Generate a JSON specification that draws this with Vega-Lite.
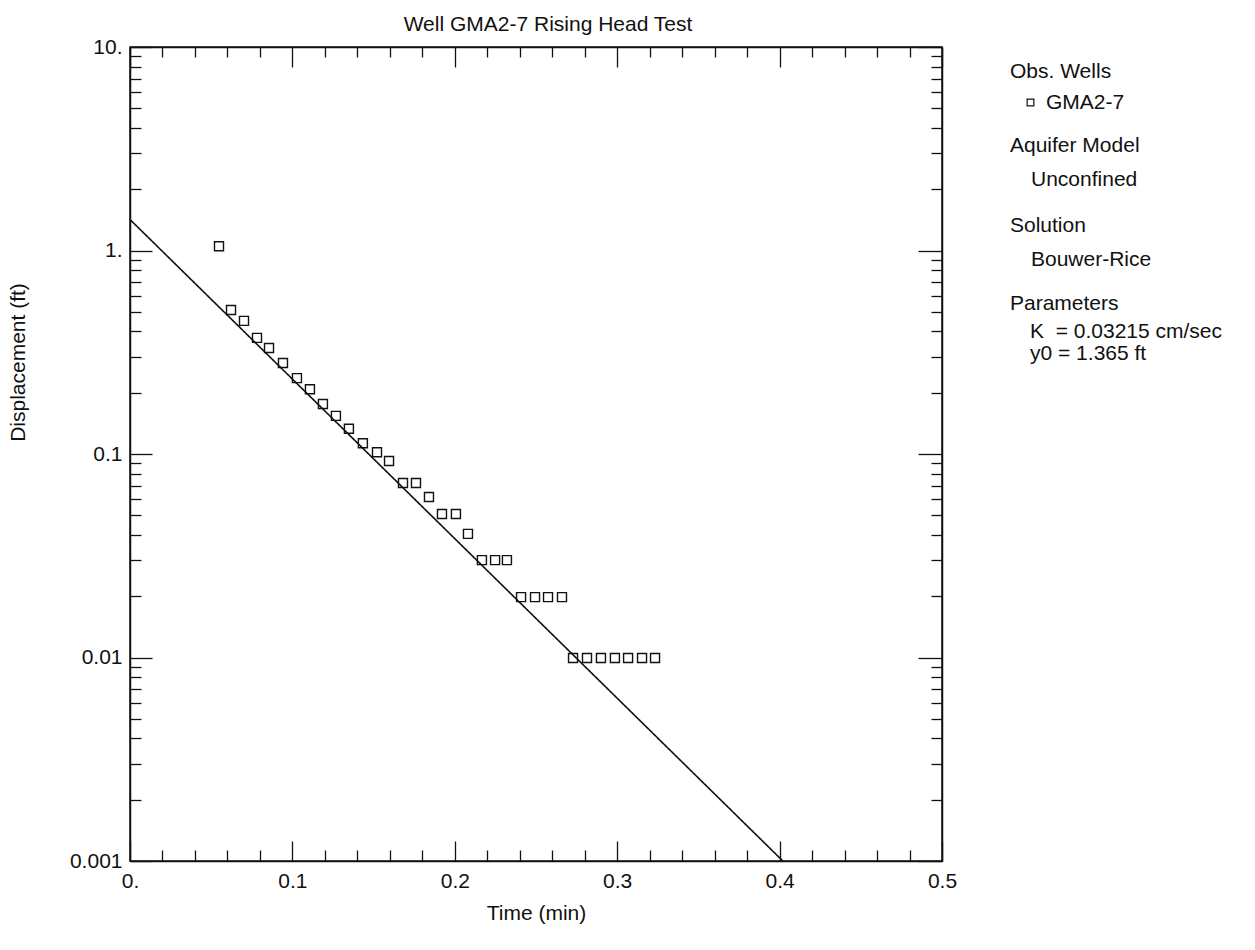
{
  "$schema": "https://vega.github.io/schema/vega-lite/v6.json",
  "width": 812,
  "height": 814,
  "autosize": "none",
  "padding": {"left": 130, "top": 47, "right": 313, "bottom": 89},
  "background": "white",
  "title": {
    "text": "Well GMA2-7 Rising Head Test",
    "font": "Liberation Sans",
    "fontSize": 21,
    "fontWeight": "normal",
    "color": "#111",
    "anchor": "middle",
    "baseline": "alphabetic",
    "offset": 16,
    "dx": 12,
    "dy": 32
  },
  "datasets": {
    "obs": [
      {"t": 0.0548, "d": 1.05, "well": "GMA2-7"},
      {"t": 0.0622, "d": 0.51, "well": "GMA2-7"},
      {"t": 0.0702, "d": 0.451, "well": "GMA2-7"},
      {"t": 0.0782, "d": 0.372, "well": "GMA2-7"},
      {"t": 0.0856, "d": 0.332, "well": "GMA2-7"},
      {"t": 0.0942, "d": 0.280, "well": "GMA2-7"},
      {"t": 0.1028, "d": 0.236, "well": "GMA2-7"},
      {"t": 0.1108, "d": 0.208, "well": "GMA2-7"},
      {"t": 0.1188, "d": 0.176, "well": "GMA2-7"},
      {"t": 0.1268, "d": 0.154, "well": "GMA2-7"},
      {"t": 0.1348, "d": 0.133, "well": "GMA2-7"},
      {"t": 0.1434, "d": 0.113, "well": "GMA2-7"},
      {"t": 0.1521, "d": 0.102, "well": "GMA2-7"},
      {"t": 0.1595, "d": 0.0924, "well": "GMA2-7"},
      {"t": 0.1681, "d": 0.0720, "well": "GMA2-7"},
      {"t": 0.1761, "d": 0.0720, "well": "GMA2-7"},
      {"t": 0.1841, "d": 0.0615, "well": "GMA2-7"},
      {"t": 0.1921, "d": 0.0507, "well": "GMA2-7"},
      {"t": 0.2007, "d": 0.0507, "well": "GMA2-7"},
      {"t": 0.2081, "d": 0.0405, "well": "GMA2-7"},
      {"t": 0.2167, "d": 0.0301, "well": "GMA2-7"},
      {"t": 0.2248, "d": 0.0301, "well": "GMA2-7"},
      {"t": 0.2321, "d": 0.0301, "well": "GMA2-7"},
      {"t": 0.2408, "d": 0.0198, "well": "GMA2-7"},
      {"t": 0.2494, "d": 0.0198, "well": "GMA2-7"},
      {"t": 0.2574, "d": 0.0198, "well": "GMA2-7"},
      {"t": 0.2660, "d": 0.0198, "well": "GMA2-7"},
      {"t": 0.2728, "d": 0.00995, "well": "GMA2-7"},
      {"t": 0.2814, "d": 0.00995, "well": "GMA2-7"},
      {"t": 0.2900, "d": 0.00995, "well": "GMA2-7"},
      {"t": 0.2986, "d": 0.00995, "well": "GMA2-7"},
      {"t": 0.3067, "d": 0.00995, "well": "GMA2-7"},
      {"t": 0.3153, "d": 0.00995, "well": "GMA2-7"},
      {"t": 0.3233, "d": 0.00995, "well": "GMA2-7"}
    ],
    "fit": [
      {"t": 0.0, "d": 1.42, "model": "Unconfined", "solution": "Bouwer-Rice", "param": "K\u00a0 = 0.03215 cm/sec"},
      {"t": 0.402, "d": 0.001, "model": "Unconfined", "solution": "Bouwer-Rice", "param": "K\u00a0 = 0.03215 cm/sec"}
    ]
  },
  "layer": [
    {
      "data": {"name": "obs"},
      "mark": {"type": "point", "filled": false, "color": "#111", "size": 81, "strokeWidth": 1.4, "opacity": 1},
      "encoding": {
        "x": {
          "field": "t", "type": "quantitative",
          "scale": {"domain": [0, 0.5], "nice": false, "zero": false},
          "axis": {
            "orient": "bottom",
            "title": "Time (min)",
            "values": [0, 0.02, 0.04, 0.06, 0.08, 0.1, 0.12, 0.14, 0.16, 0.18, 0.2, 0.22, 0.24, 0.26, 0.28, 0.3, 0.32, 0.34, 0.36, 0.38, 0.4, 0.42, 0.44, 0.46, 0.48, 0.5],
            "labelExpr": "abs(datum.value*10 - round(datum.value*10)) < 0.001 ? (datum.value == 0 ? '0.' : format(datum.value, '.1f')) : ''",
            "tickSize": {"condition": {"test": "abs(datum.value*10 - round(datum.value*10)) < 0.001", "value": -20}, "value": -11},
            "labelPadding": 29,
            "labelFlush": false,
            "labelOverlap": false,
            "titlePadding": 2
          }
        },
        "y": {
          "field": "d", "type": "quantitative",
          "scale": {"type": "log", "domain": [0.001, 10], "nice": false},
          "axis": {
            "orient": "left",
            "title": "Displacement (ft)",
            "values": [0.001, 0.002, 0.003, 0.004, 0.005, 0.006, 0.007, 0.008, 0.009, 0.01, 0.02, 0.03, 0.04, 0.05, 0.06, 0.07, 0.08, 0.09, 0.1, 0.2, 0.3, 0.4, 0.5, 0.6, 0.7, 0.8, 0.9, 1, 2, 3, 4, 5, 6, 7, 8, 9, 10],
            "labelExpr": "abs(log(datum.value)/LN10 - round(log(datum.value)/LN10)) < 0.001 ? (datum.value >= 1 ? format(datum.value, 'd') + '.' : format(datum.value, '~g')) : ''",
            "tickSize": {"condition": {"test": "abs(log(datum.value)/LN10 - round(log(datum.value)/LN10)) < 0.001", "value": -22}, "value": -11},
            "labelPadding": 30,
            "labelFlush": false,
            "labelOverlap": false,
            "titleX": -102,
            "titleY": 315,
            "titleAngle": -90,
            "titleAlign": "center",
            "titleBaseline": "bottom"
          }
        },
        "shape": {
          "field": "well", "type": "nominal",
          "scale": {"domain": ["GMA2-7"], "range": ["square"]},
          "legend": {
            "title": "Obs. Wells",
            "orient": "none",
            "legendX": 880,
            "legendY": 14,
            "symbolSize": 45,
            "symbolOffset": 10,
            "labelOffset": 5,
            "symbolStrokeColor": "#111",
            "symbolFillColor": "transparent",
            "symbolStrokeWidth": 1.2
          }
        }
      }
    },
    {
      "data": {"name": "fit"},
      "mark": {"type": "line", "color": "#111", "strokeWidth": 1.6},
      "encoding": {
        "x": {
          "field": "t", "type": "quantitative",
          "axis": {
            "orient": "top",
            "title": null,
            "labels": false,
            "values": [0, 0.02, 0.04, 0.06, 0.08, 0.1, 0.12, 0.14, 0.16, 0.18, 0.2, 0.22, 0.24, 0.26, 0.28, 0.3, 0.32, 0.34, 0.36, 0.38, 0.4, 0.42, 0.44, 0.46, 0.48, 0.5],
            "tickSize": {"condition": {"test": "abs(datum.value*10 - round(datum.value*10)) < 0.001", "value": -20}, "value": -10}
          }
        },
        "y": {
          "field": "d", "type": "quantitative",
          "axis": {
            "orient": "right",
            "title": null,
            "labels": false,
            "values": [0.001, 0.002, 0.003, 0.004, 0.005, 0.006, 0.007, 0.008, 0.009, 0.01, 0.02, 0.03, 0.04, 0.05, 0.06, 0.07, 0.08, 0.09, 0.1, 0.2, 0.3, 0.4, 0.5, 0.6, 0.7, 0.8, 0.9, 1, 2, 3, 4, 5, 6, 7, 8, 9, 10],
            "tickSize": {"condition": {"test": "abs(log(datum.value)/LN10 - round(log(datum.value)/LN10)) < 0.001", "value": -24}, "value": -11}
          }
        },
        "strokeDash": {
          "field": "model", "type": "nominal",
          "scale": {"domain": ["Unconfined"], "range": [[1, 0]]},
          "legend": {
            "title": "Aquifer Model",
            "orient": "none",
            "legendX": 880,
            "legendY": 88,
            "symbolOpacity": 0,
            "symbolStrokeColor": "transparent",
            "symbolFillColor": "transparent",
            "symbolSize": 1,
            "labelOffset": 0,
            "titlePadding": 13
          }
        },
        "opacity": {
          "field": "solution", "type": "nominal",
          "scale": {"domain": ["Bouwer-Rice"], "range": [1]},
          "legend": {
            "title": "Solution",
            "orient": "none",
            "legendX": 880,
            "legendY": 168,
            "symbolOpacity": 0,
            "symbolStrokeColor": "transparent",
            "symbolFillColor": "transparent",
            "symbolSize": 1,
            "labelOffset": 0,
            "titlePadding": 13
          }
        },
        "color": {
          "field": "param", "type": "nominal",
          "scale": {"domain": ["K\u00a0 = 0.03215 cm/sec", "y0 = 1.365 ft"], "range": ["#111", "#111"]},
          "legend": {
            "title": "Parameters",
            "orient": "none",
            "legendX": 880,
            "legendY": 246,
            "symbolOpacity": 0,
            "symbolStrokeColor": "transparent",
            "symbolFillColor": "transparent",
            "symbolSize": 1,
            "labelOffset": -1,
            "titlePadding": 7,
            "rowPadding": 0
          }
        }
      }
    }
  ],
  "resolve": {"axis": {"x": "independent", "y": "independent"}},
  "config": {
    "view": {"stroke": "#111", "strokeWidth": 1.5},
    "font": "Liberation Sans",
    "axis": {
      "domainColor": "#111",
      "domainWidth": 1.5,
      "tickColor": "#111",
      "tickWidth": 1.3,
      "grid": false,
      "labelFont": "Liberation Sans",
      "labelFontSize": 21,
      "labelColor": "#111",
      "titleFont": "Liberation Sans",
      "titleFontSize": 21,
      "titleFontWeight": "normal",
      "titleColor": "#111"
    },
    "legend": {
      "titleFont": "Liberation Sans",
      "titleFontSize": 21,
      "titleFontWeight": "normal",
      "titleColor": "#111",
      "labelFont": "Liberation Sans",
      "labelFontSize": 21,
      "labelColor": "#111",
      "titlePadding": 10,
      "padding": 0,
      "labelLimit": 400,
      "titleLimit": 400
    }
  }
}
